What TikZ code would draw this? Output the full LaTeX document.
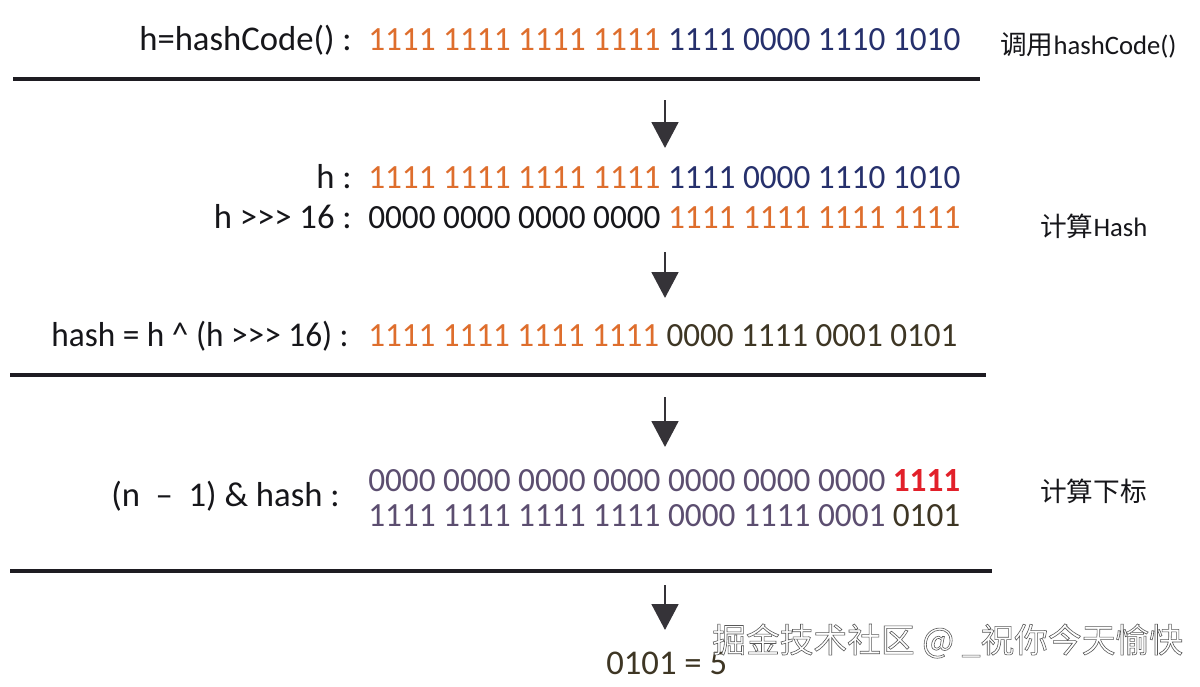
\documentclass[tikz,border=0pt]{standalone}
\usepackage{fontspec}
\usepackage{graphicx}
\setmainfont{Carlito}
\newfontfamily\cjk{Noto Sans CJK SC}
\usetikzlibrary{arrows.meta}
\definecolor{orng}{RGB}{222,110,45}
\definecolor{navy}{RGB}{38,48,108}
\definecolor{ink}{RGB}{22,22,26}
\definecolor{plum}{RGB}{92,78,112}
\definecolor{olive}{RGB}{62,54,36}
\definecolor{redd}{RGB}{226,32,42}
\definecolor{rule}{RGB}{30,28,34}
\newcommand{\numrow}[2]{\resizebox{#1}{16.5pt}{#2}}
\newcommand{\outlined}[1]{\special{pdf:literal direct 0.35 G 0.45 w 2 Tr}#1\special{pdf:literal direct 0 Tr}}
\tikzset{
  lbl/.style={anchor=base east, inner sep=0pt, font=\fontsize{26}{30}\selectfont, text=ink},
  bits/.style={anchor=base west, inner sep=0pt, font=\fontsize{26}{30}\selectfont},
  side/.style={anchor=base west, inner sep=0pt, font=\fontsize{20}{24}\selectfont, text=ink},
  hrule/.style={draw=rule, line width=2.6pt},
  flow/.style={draw=rule!90, line width=2.2pt, -{Triangle[length=19.5pt,width=20pt]}, fill=rule!90},
}
\begin{document}
\begin{tikzpicture}[x=0.75pt,y=-0.75pt]
\useasboundingbox[fill=white] (0,0) rectangle (1200,686);
% row 1
\node[lbl] (l1) at (352,50) {h=hashCode() :};
\node[bits] (b1) at (368,50) {\numrow{444pt}{\color{orng}1111 1111 1111 1111 \color{navy}1111 0000 1110 1010}};
\node[side] (s1) at (1000,54) {{\cjk 调用}hashCode()};
\coordinate (r1a) at (13,79); \coordinate (r1b) at (980,79);
\draw[hrule] (r1a) -- (r1b);
% arrow 1
\coordinate (a1s) at (665,100); \coordinate (a1e) at (665,148);
\draw[flow] (a1s) -- (a1e);
% row 2,3
\node[lbl] (l2) at (352,188) {h :};
\node[bits] (b2) at (368,188) {\numrow{444pt}{\color{orng}1111 1111 1111 1111 \color{navy}1111 0000 1110 1010}};
\node[lbl] (l3) at (352,228) {h >{}>{}> 16 :};
\node[bits] (b3) at (368,228) {\numrow{444pt}{\color{ink}0000 0000 0000 0000 \color{orng}1111 1111 1111 1111}};
\node[side] (s2) at (1040,236) {{\cjk 计算}Hash};
% arrow 2
\coordinate (a2s) at (665,252); \coordinate (a2e) at (665,298);
\draw[flow] (a2s) -- (a2e);
% row 4
\node[lbl] (l4) at (349,346) {\scalebox{0.96}[1]{hash = h \^{} (h >{}>{}> 16) :}};
\node[bits] (b4) at (368,346) {\numrow{441.75pt}{\color{orng}1111 1111 1111 1111 \color{olive}0000 1111 0001 0101}};
\coordinate (r2a) at (10,375); \coordinate (r2b) at (986,375);
\draw[hrule] (r2a) -- (r2b);
% arrow 3
\coordinate (a3s) at (665,397); \coordinate (a3e) at (665,447);
\draw[flow] (a3s) -- (a3e);
% row 5
\node[lbl] (l5) at (340,506) {(n ~–~ 1) \& hash :};
\node[bits] (b5a) at (368,491) {\numrow{444pt}{\color{plum}0000 0000 0000 0000 0000 0000 0000 \color{redd}\bfseries 1111}};
\node[bits] (b5b) at (368,526) {\numrow{444pt}{\color{plum}1111 1111 1111 1111 0000 1111 0001 \color{olive}0101}};
\node[side] (s3) at (1040,501) {\cjk 计算下标};
\coordinate (r3a) at (10,571); \coordinate (r3b) at (992,571);
\draw[hrule] (r3a) -- (r3b);
% arrow 4
\coordinate (a4s) at (665,585); \coordinate (a4e) at (665,630);
\draw[flow] (a4s) -- (a4e);
\node[bits] (res) at (606,674) {\color{olive}0101 = 5};
% watermark
\node[anchor=west, inner sep=0pt, font=\cjk\fontsize{25.3}{30}\selectfont, text=white] (wm) at (712,641) {\outlined{掘金技术社区 @ \_祝你今天愉快}};
\end{tikzpicture}
\end{document}
